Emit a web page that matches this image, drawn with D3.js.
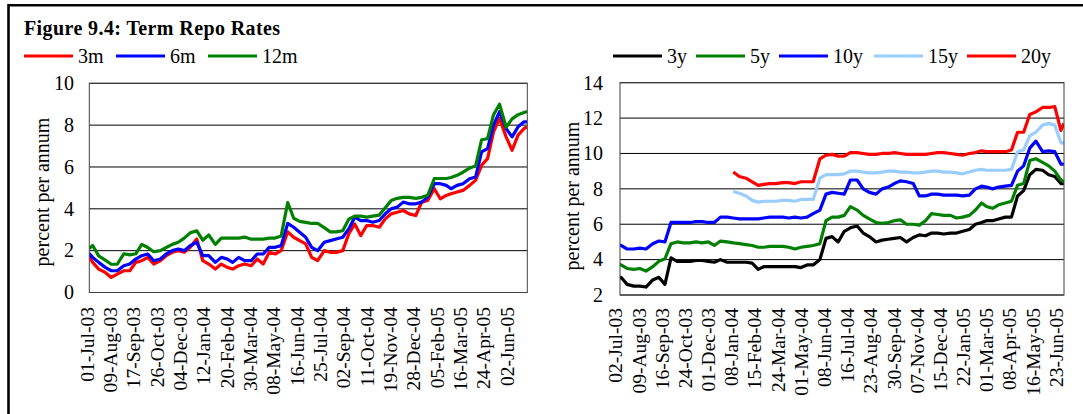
<!DOCTYPE html>
<html>
<head>
<meta charset="utf-8">
<script src="https://cdn.jsdelivr.net/npm/d3@7"></script>
<style>
  body { margin: 0; background: #fff; }
  svg { display: block; font-family: "Liberation Serif", "Times New Roman", serif; }
</style>
</head>
<body>
<svg id="chart" width="1083" height="414"></svg>
<script>
// observation dates (1st, 11th, 21st of each month)
const dates = [
  "2003-07-05","2003-07-11","2003-07-21",
  "2003-08-01","2003-08-11","2003-08-21","2003-09-01","2003-09-11","2003-09-21",
  "2003-10-01","2003-10-11","2003-10-21","2003-11-01","2003-11-11","2003-11-21",
  "2003-12-01","2003-12-11","2003-12-21","2004-01-01","2004-01-11","2004-01-21",
  "2004-02-01","2004-02-11","2004-02-21","2004-03-01","2004-03-11","2004-03-21",
  "2004-04-01","2004-04-11","2004-04-21","2004-05-01","2004-05-11","2004-05-21",
  "2004-06-01","2004-06-11","2004-06-21","2004-07-01","2004-07-11","2004-07-21",
  "2004-08-01","2004-08-11","2004-08-21","2004-09-01","2004-09-11","2004-09-21",
  "2004-10-01","2004-10-11","2004-10-21","2004-11-01","2004-11-11","2004-11-21",
  "2004-12-01","2004-12-11","2004-12-21","2005-01-01","2005-01-11","2005-01-21",
  "2005-02-01","2005-02-11","2005-02-21","2005-03-01","2005-03-11","2005-03-21",
  "2005-04-01","2005-04-11","2005-04-21","2005-05-01","2005-05-11","2005-05-21",
  "2005-06-01","2005-06-11","2005-06-21","2005-07-01","2005-07-06"
];

// left panel: term repo rates
const rate3m = [1.76,1.44,1.12, 0.96,0.72,0.88, 1.04,1.04,1.44, 1.52,1.68,1.36, 1.52,1.76,1.92,
  2.0,1.92,2.16, 2.56,1.52,1.36, 1.12,1.36,1.2, 1.12,1.28,1.36, 1.28,1.6,1.36, 1.92,1.84,2.0,
  2.9,2.64,2.48, 2.32,1.68,1.52, 2.0,1.92,1.92, 2.0,2.8,3.28, 2.72,3.2,3.2, 3.12,3.52,3.76,
  3.84,3.92,3.76, 3.68,4.32,4.4, 4.96,4.48,4.64, 4.72,4.8,4.88, 5.12,5.36,6.08, 6.4,7.68,8.32,
  7.44,6.8,7.52, 7.84,7.92];
const rate6m = [1.87,1.68,1.44, 1.2,1.04,1.04, 1.28,1.36,1.6, 1.76,1.84,1.52, 1.6,1.84,2.0,
  2.08,2.0,2.24, 2.4,1.76,1.76, 1.44,1.68,1.6, 1.44,1.68,1.52, 1.52,1.84,1.84, 2.16,2.16,2.24,
  3.3,3.12,2.88, 2.64,2.16,2.0, 2.4,2.48,2.56, 2.64,3.04,3.6, 3.44,3.44,3.36, 3.44,3.76,4.0,
  4.08,4.32,4.24, 4.24,4.32,4.56, 5.2,5.2,5.12, 4.96,5.12,5.2, 5.44,5.52,6.72, 6.88,8.0,8.64,
  7.84,7.44,7.92, 8.16,8.16];
const rate12m = [2.1,2.25,1.75, 1.55,1.35,1.35, 1.85,1.8,1.85, 2.3,2.15,1.95, 2.0,2.15,2.3,
  2.4,2.6,2.85, 2.95,2.5,2.75, 2.3,2.6,2.6, 2.6,2.6,2.65, 2.55,2.55,2.55, 2.6,2.6,2.7,
  4.3,3.55,3.4, 3.35,3.3,3.3, 3.1,2.9,2.9, 2.95,3.5,3.65, 3.65,3.6,3.65, 3.7,4.05,4.4,
  4.5,4.55,4.55, 4.5,4.55,4.65, 5.45,5.45,5.45, 5.5,5.6,5.75, 5.95,6.05,7.3, 7.35,8.5,9.0,
  7.9,8.3,8.5, 8.6,8.65];

// right panel: longer tenors
const rate3y = [2.9,3.0,2.6, 2.5,2.5,2.45, 2.85,3.0,2.6, 4.1,3.9,3.9, 3.9,3.95,3.95,
  3.9,3.85,4.0, 3.85,3.85,3.85, 3.85,3.8,3.45, 3.6,3.6,3.6, 3.6,3.6,3.6, 3.55,3.7,3.7,
  4.0,5.2,5.3, 5.0,5.6,5.8, 5.9,5.5,5.3, 5.0,5.1,5.15, 5.2,5.25,5.0, 5.25,5.4,5.35,
  5.5,5.5,5.45, 5.5,5.5,5.6, 5.7,6.0,6.1, 6.2,6.2,6.3, 6.4,6.4,7.6, 7.9,8.8,9.1,
  9.05,8.8,8.7, 8.3,8.3];
const rate5y = [3.75,3.7,3.5, 3.45,3.5,3.35, 3.6,3.9,4.05, 4.9,5.0,4.95, 4.95,5.0,4.95,
  5.0,4.8,5.05, 5.0,4.95,4.9, 4.85,4.8,4.7, 4.7,4.75,4.75, 4.75,4.7,4.6, 4.7,4.75,4.8,
  4.9,6.2,6.4, 6.4,6.5,7.0, 6.8,6.5,6.3, 6.1,6.05,6.1, 6.2,6.25,6.0, 6.0,5.95,6.2,
  6.6,6.55,6.5, 6.5,6.35,6.4, 6.5,6.8,7.2, 7.0,6.9,7.1, 7.2,7.3,8.2, 8.3,9.6,9.7,
  9.5,9.3,9.0, 8.5,8.4];
const rate10y = [4.8,4.8,4.6, 4.6,4.65,4.6, 4.9,5.05,5.0, 6.1,6.1,6.1, 6.1,6.15,6.15,
  6.1,6.1,6.4, 6.4,6.35,6.3, 6.3,6.3,6.3, 6.35,6.4,6.4, 6.4,6.35,6.4, 6.35,6.4,6.6,
  6.8,7.7,7.8, 7.75,7.7,8.5, 8.5,8.0,7.8, 7.7,8.0,8.1, 8.3,8.45,8.4, 8.3,7.6,7.6,
  7.7,7.7,7.65, 7.65,7.65,7.6, 7.65,8.0,8.15, 8.1,8.0,8.1, 8.15,8.2,9.0, 9.3,10.3,10.7,
  10.1,10.15,10.1, 9.4,9.4];
const rate15y = [null,null,null, null,null,null, null,null,null, null,null,null, null,null,null,
  null,null,null, null,7.85,7.75, 7.6,7.35,7.25, 7.3,7.3,7.3, 7.35,7.35,7.3, 7.4,7.4,7.4,
  8.6,8.8,8.8, 8.8,8.85,9.0, 9.0,8.95,8.9, 8.9,8.95,9.0, 9.0,8.95,8.95, 8.9,8.9,8.95,
  9.0,9.0,8.95, 8.95,8.9,8.85, 8.95,9.05,9.1, 9.05,9.05,9.05, 9.05,9.1,10.1, 10.2,11.0,11.2,
  11.6,11.7,11.6, 10.6,10.6];
const rate20y = [null,null,null, null,null,null, null,null,null, null,null,null, null,null,null,
  null,null,null, null,8.95,8.7, 8.6,8.4,8.2, 8.25,8.3,8.3, 8.35,8.35,8.3, 8.4,8.4,8.4,
  9.7,9.9,9.95, 9.85,9.85,10.05, 10.05,10.0,9.95, 9.95,10.0,10.0, 10.05,10.0,9.95, 9.95,9.95,9.95,
  10.0,10.05,10.05, 10.0,9.95,9.9, 10.0,10.05,10.15, 10.1,10.1,10.1, 10.1,10.2,11.2, 11.2,12.2,12.35,
  12.6,12.6,12.65, 11.3,11.7];

const leftTickLabels = ["01-Jul-03","09-Aug-03","17-Sep-03","26-Oct-03","04-Dec-03","12-Jan-04",
  "20-Feb-04","30-Mar-04","08-May-04","16-Jun-04","25-Jul-04","02-Sep-04","11-Oct-04","19-Nov-04",
  "28-Dec-04","05-Feb-05","16-Mar-05","24-Apr-05","02-Jun-05"];
const rightTickLabels = ["02-Jul-03","09-Aug-03","16-Sep-03","24-Oct-03","01-Dec-03","08-Jan-04",
  "15-Feb-04","24-Mar-04","01-May-04","08-Jun-04","16-Jul-04","23-Aug-04","30-Sep-04","07-Nov-04",
  "15-Dec-04","22-Jan-05","01-Mar-05","08-Apr-05","16-May-05","23-Jun-05"];

const leftYTicks = [0, 2, 4, 6, 8, 10];
const rightYTicks = [2, 4, 6, 8, 10, 12, 14];

const parseIso = d3.utcParse("%Y-%m-%d"),
      parseLbl = d3.utcParse("%d-%b-%y"),
      days = dates.map(parseIso);

const svg = d3.select("#chart");
svg.append("rect").attr("width", 1083).attr("height", 414).attr("fill", "#fff");

// outer frame (left and top edges visible)
svg.append("path")
  .attr("d", "M8.5,420 L8.5,5.3 L1090,5.3")
  .attr("fill", "none").attr("stroke", "#000").attr("stroke-width", 2.6);

svg.append("text")
  .attr("x", 24).attr("y", 35)
  .attr("font-size", 20).attr("font-weight", "bold").attr("letter-spacing", 0.4)
  .text("Figure 9.4: Term Repo Rates");

function drawPanel(cfg) {
  const g = svg.append("g");
  const x = d3.scaleUtc()
    .domain([parseLbl(cfg.ticks[0]), parseLbl(cfg.ticks[cfg.ticks.length - 1])])
    .range(cfg.labelRange);
  const y = d3.scaleLinear().domain(cfg.yDomain).range([cfg.bottom, cfg.top]);

  // gridlines
  g.selectAll(".grid").data(cfg.yTicks).join("line")
    .attr("x1", cfg.left).attr("x2", cfg.right)
    .attr("y1", d => y(d)).attr("y2", d => y(d))
    .attr("stroke", "#000").attr("stroke-width", 1);

  // y tick labels
  g.selectAll(".ylab").data(cfg.yTicks).join("text")
    .attr("x", cfg.yLabelX).attr("y", d => y(d)).attr("dy", "0.34em")
    .attr("text-anchor", "end").attr("font-size", 20)
    .text(d => d);

  g.append("text")
    .attr("transform", `translate(${cfg.titleX},${cfg.titleY}) rotate(-90)`)
    .attr("text-anchor", "middle").attr("font-size", 20)
    .text("percent per annum");

  // x tick labels, rotated
  g.selectAll(".xlab").data(cfg.ticks).join("text")
    .attr("transform", d => `translate(${x(parseLbl(d))},${cfg.xLabelY}) rotate(-90)`)
    .attr("dy", "0.35em").attr("text-anchor", "end").attr("font-size", 19.5)
    .text(d => d);

  const clipId = "clip" + cfg.left;
  g.append("clipPath").attr("id", clipId).append("rect")
    .attr("x", cfg.left).attr("y", cfg.top - 10)
    .attr("width", cfg.right - cfg.left).attr("height", cfg.bottom - cfg.top + 10);

  const line = d3.line()
    .defined(d => d[1] != null)
    .x(d => x(d[0])).y(d => y(d[1]));

  g.append("g").attr("clip-path", `url(#${clipId})`)
    .selectAll("path").data(cfg.series).join("path")
    .attr("d", s => line(days.map((d, i) => [d, s.values[i]])))
    .attr("fill", "none").attr("stroke", s => s.color)
    .attr("stroke-width", 3.2).attr("stroke-linejoin", "round");

  // plot frame
  g.append("rect")
    .attr("x", cfg.left).attr("y", cfg.top)
    .attr("width", cfg.right - cfg.left).attr("height", cfg.bottom - cfg.top)
    .attr("fill", "none").attr("stroke", "#404040").attr("stroke-width", 1);

  // legend
  const lg = g.selectAll(".leg").data(cfg.series).join("g");
  lg.append("line")
    .attr("x1", (s, i) => cfg.legendX[i]).attr("x2", (s, i) => cfg.legendX[i] + 49)
    .attr("y1", 56).attr("y2", 56)
    .attr("stroke", s => s.color).attr("stroke-width", 3.2);
  lg.append("text")
    .attr("x", (s, i) => cfg.legendX[i] + 54).attr("y", 62.5)
    .attr("font-size", 20)
    .text(s => s.name);
}

drawPanel({
  left: 89.3, right: 527.3, top: 83.3, bottom: 292.5,
  yDomain: [0, 10], yTicks: leftYTicks, yLabelX: 74,
  titleX: 48.7, titleY: 192,
  ticks: leftTickLabels, labelRange: [86.7, 506.7], xLabelY: 307,
  legendX: [24, 116, 208],
  series: [
    {name: "3m", color: "#ff0000", values: rate3m},
    {name: "6m", color: "#0000ff", values: rate6m},
    {name: "12m", color: "#008000", values: rate12m}
  ]
});

drawPanel({
  left: 620, right: 1064, top: 82.7, bottom: 295,
  yDomain: [2, 14], yTicks: rightYTicks, yLabelX: 603,
  titleX: 578.5, titleY: 196,
  ticks: rightTickLabels, labelRange: [615.5, 1056], xLabelY: 308,
  legendX: [613, 696, 779, 874, 967],
  series: [
    {name: "3y", color: "#000000", values: rate3y},
    {name: "5y", color: "#008000", values: rate5y},
    {name: "10y", color: "#0000ff", values: rate10y},
    {name: "15y", color: "#99ccff", values: rate15y},
    {name: "20y", color: "#ff0000", values: rate20y}
  ]
});
</script>
</body>
</html>
